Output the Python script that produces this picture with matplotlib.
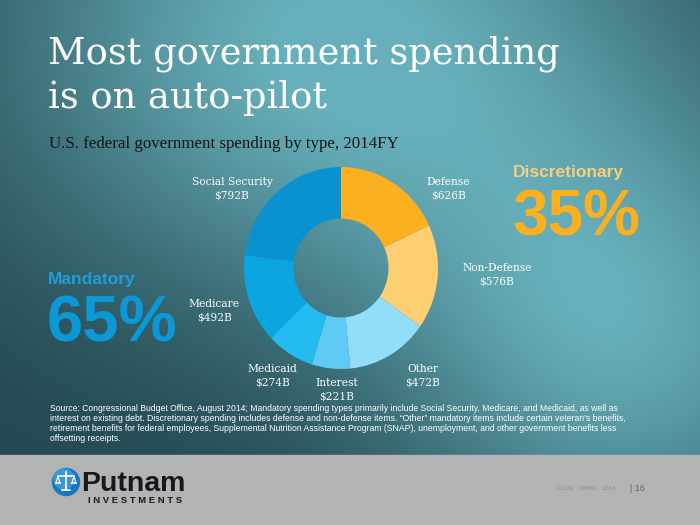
import numpy as np
import matplotlib
matplotlib.use("Agg")
import matplotlib.pyplot as plt
from matplotlib.patches import Rectangle, Circle

# spending by type, 2014FY ($B), clockwise from top
categories = ["Defense", "Non-Defense", "Other", "Interest", "Medicaid", "Medicare", "Social Security"]
spending = [626, 576, 472, 221, 274, 492, 792]
slice_colors = ["#FBB01F", "#FECE72", "#92DDF8", "#5FCAF4", "#24BCF0", "#0BA6E2", "#0A92D0"]

# label centres in pixels
label_pos = {
    "Defense": (448, 189), "Non-Defense": (497, 275), "Other": (423, 376),
    "Interest": (337, 390), "Medicaid": (272, 376), "Medicare": (214, 311),
    "Social Security": (232, 189),
}

W, H = 700, 525
fig = plt.figure(figsize=(7, 5.25), dpi=100)

def fx(x):
    return x / W

def fy(y):
    return 1 - y / H

# background
bg = fig.add_axes([0, 0, 1, 1])
yy, xx = np.mgrid[0:H, 0:W]
t1 = np.exp(-(((xx - 330) / 330) ** 2 + ((yy - 40) / 260) ** 2))
t2 = np.exp(-(((xx - 630) / 240) ** 2 + ((yy - 340) / 230) ** 2))
t = np.clip(t1 + 0.85 * t2, 0, 1)
dark = np.array([0x22, 0x46, 0x4F]) / 255
light = np.array([0x67, 0xB0, 0xBB]) / 255
img = dark + (light - dark) * t[..., None]
bg.imshow(img, extent=[0, W, H, 0], aspect="auto")
bg.add_patch(Rectangle((0, 455), W, 70, color="#B3B3B3"))
bg.set_xlim(0, W)
bg.set_ylim(H, 0)
bg.axis("off")

# donut
cx, cy = 341, 268
ax = fig.add_axes([fx(cx - 97), fy(cy + 101), 194 / W, 202 / H])
ax.pie(spending, colors=slice_colors, startangle=90, counterclock=False,
       radius=1, wedgeprops=dict(width=0.51, linewidth=0))
ax.set_aspect("auto")
ax.set_xlim(-1, 1)
ax.set_ylim(-1, 1)
ax.axis("off")

for cat, val in zip(categories, spending):
    x, y = label_pos[cat]
    fig.text(fx(x), fy(y), f"{cat}\n${val}B", ha="center", va="center",
             color="white", fontsize=7.7, family="DejaVu Serif", linespacing=1.45)

# titles
fig.text(fx(48), fy(63), "Most government spending", color="white",
         fontsize=26.5, family="DejaVu Serif", va="baseline")
fig.text(fx(48), fy(108), "is on auto-pilot", color="white",
         fontsize=26.5, family="DejaVu Serif", va="baseline")
fig.text(fx(49), fy(148), "U.S. federal government spending by type, 2014FY",
         color="#161616", fontsize=12.2, family="Liberation Serif", va="baseline")

# shares
fig.text(fx(513), fy(177), "Discretionary", color="#F3CF82", fontsize=12.5,
         weight="bold", family="Liberation Sans", va="baseline")
fig.text(fx(512), fy(235), "35%", color="#FBB01F", fontsize=46,
         weight="bold", family="Liberation Sans", va="baseline")
fig.text(fx(48), fy(284), "Mandatory", color="#1E9FD9", fontsize=12.5,
         weight="bold", family="Liberation Sans", va="baseline")
fig.text(fx(47), fy(341), "65%", color="#0B98D6", fontsize=47,
         weight="bold", family="Liberation Sans", va="baseline")

source = ("Source: Congressional Budget Office, August 2014; Mandatory spending types primarily include Social Security, Medicare, and Medicaid, as well as\n"
          "interest on existing debt. Discretionary spending includes defense and non-defense items. \u201cOther\u201d mandatory items include certain veteran\u2019s benefits,\n"
          "retirement benefits for federal employees, Supplemental Nutrition Assistance Program (SNAP), unemployment, and other government benefits less\n"
          "offsetting receipts.")
fig.text(fx(50), fy(404), source, color="white", fontsize=6.25,
         family="Liberation Sans", va="top", linespacing=1.12)

# footer logo
bg.add_patch(Circle((66, 482), 13.5, color="#1877BE"))
bg.add_patch(Circle((64, 479), 10, color="#3A98D8"))
bg.plot([58, 74], [476, 476], color="white", lw=1.2)
bg.plot([66, 66], [472, 490], color="white", lw=1.2)
bg.plot([62, 70], [490, 490], color="white", lw=1.2)
bg.plot([56, 58, 60], [483, 476, 483], color="white", lw=0.8)
bg.plot([72, 74, 76], [483, 476, 483], color="white", lw=0.8)
bg.plot([56, 60], [483, 483], color="white", lw=1.2)
bg.plot([72, 76], [483, 483], color="white", lw=1.2)
fig.text(fx(81), fy(491), "Putnam", color="#17171F", fontsize=20.5,
         weight="bold", family="Liberation Sans", va="baseline")
fig.text(fx(88), fy(503), "I N V E S T M E N T S", color="#17171F", fontsize=6.8,
         weight="bold", family="Liberation Sans", va="baseline")
fig.text(fx(557), fy(490), "EO191   292452   12/14", color="#8A8A8A", fontsize=4,
         family="Liberation Sans", va="baseline")
fig.text(fx(630), fy(491), "| 16", color="#666666", fontsize=6.5,
         family="Liberation Sans", va="baseline")

fig.savefig("out.png", dpi=100)
